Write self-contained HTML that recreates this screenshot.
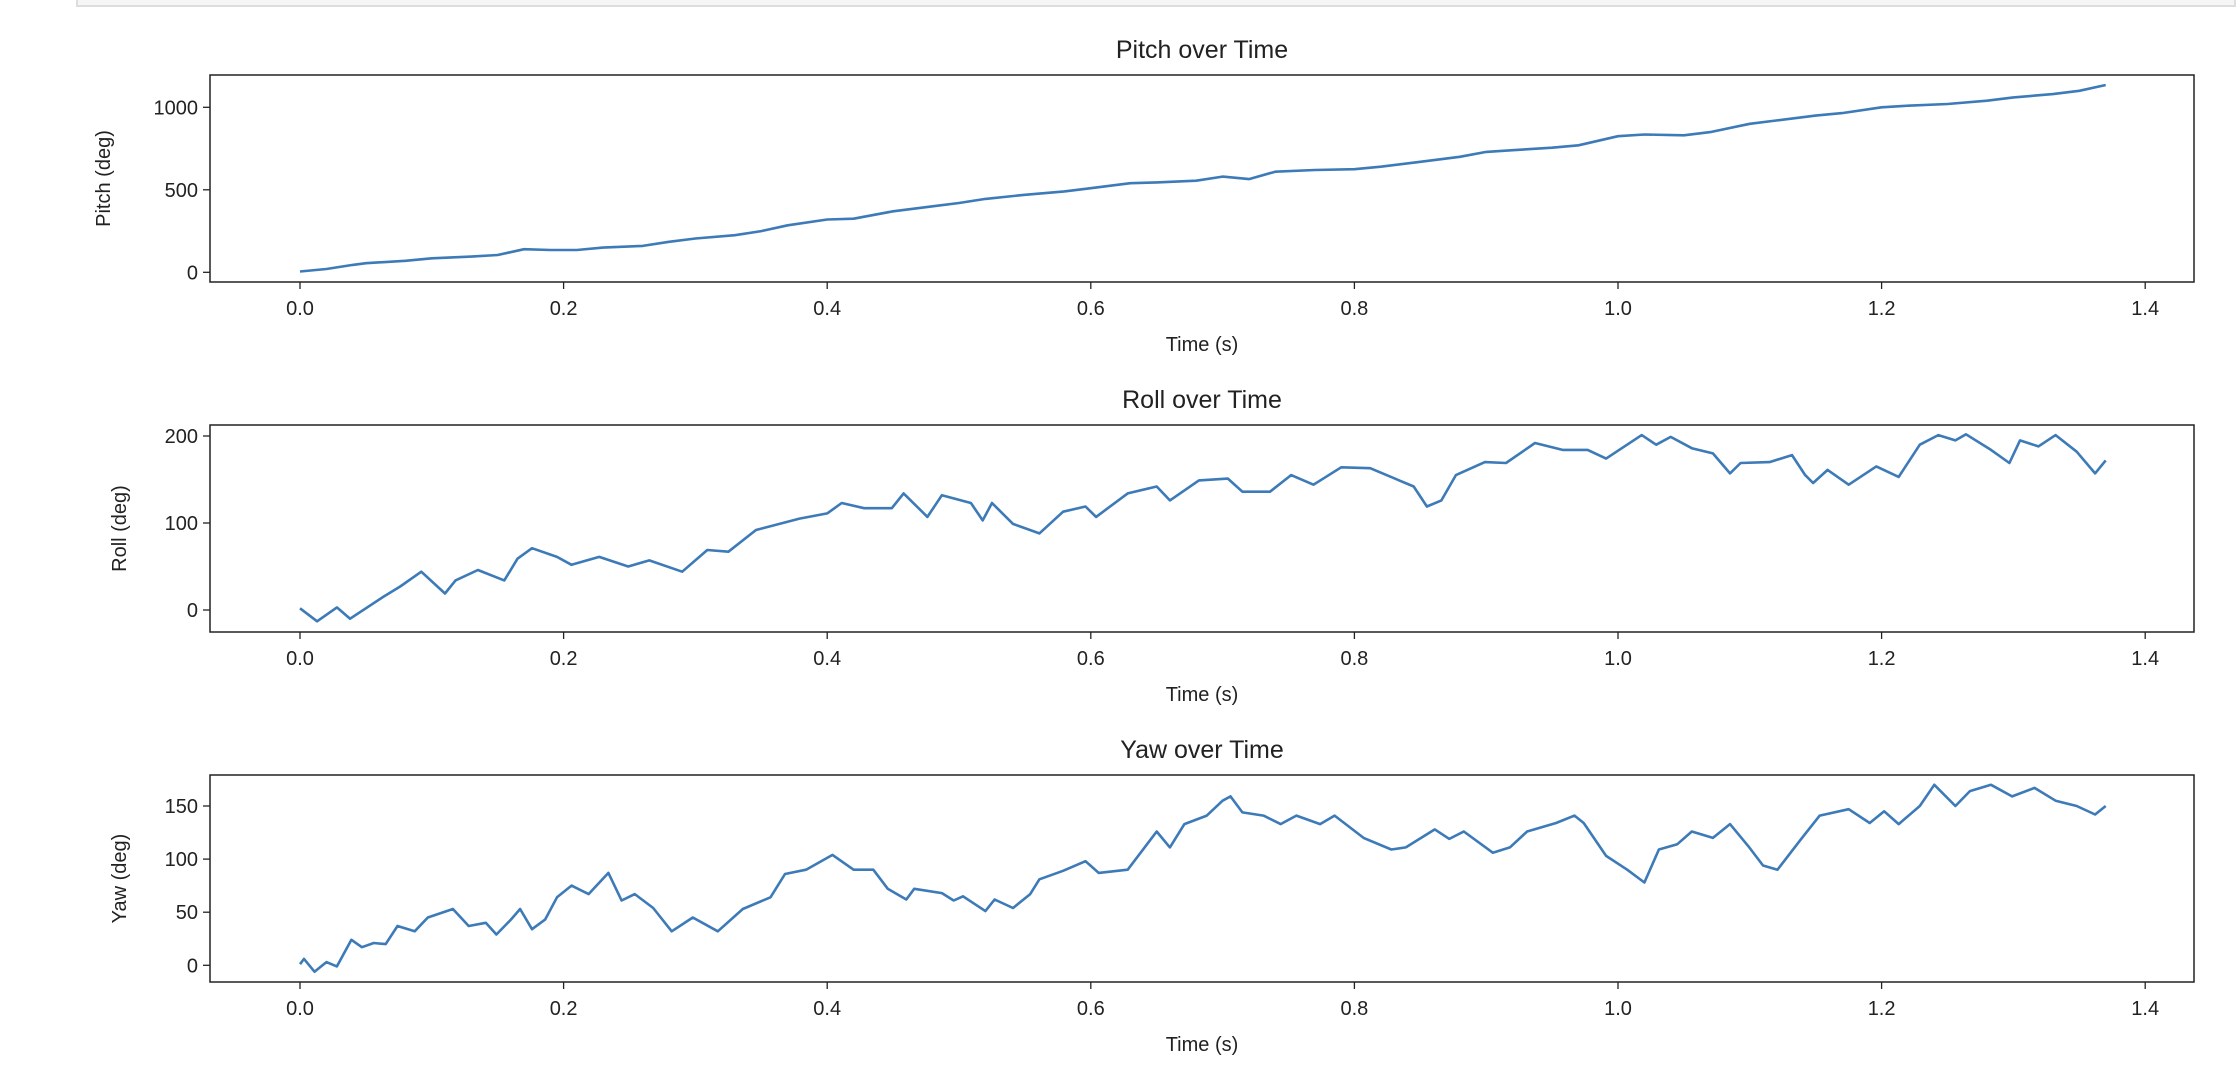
<!DOCTYPE html>
<html><head><meta charset="utf-8"><style>
body{margin:0;background:#fff;}
svg text{font-family:"Liberation Sans",sans-serif;fill:#222;}
</style></head><body>
<svg id="chart" width="2238" height="1076" xmlns="http://www.w3.org/2000/svg">
<rect x="77" y="-2" width="2158" height="8" fill="#f5f5f5" stroke="#ddd" stroke-width="2"/>
</svg>
<script>
const pitchT=[0,0.02,0.04,0.05,0.08,0.1,0.13,0.15,0.17,0.19,0.21,0.23,0.26,0.28,0.3,0.33,0.35,0.37,0.4,0.42,0.45,0.48,0.5,0.52,0.55,0.58,0.6,0.63,0.65,0.68,0.7,0.72,0.74,0.77,0.8,0.82,0.85,0.88,0.9,0.92,0.95,0.97,1.0,1.02,1.05,1.07,1.1,1.12,1.15,1.17,1.2,1.22,1.25,1.28,1.3,1.33,1.35,1.37];
const pitchV=[5,20,45,55,70,85,95,105,140,135,135,150,160,185,205,225,250,285,320,325,370,400,420,445,470,490,510,540,545,555,580,565,610,620,625,640,670,700,730,740,755,770,825,835,830,850,900,920,950,965,1000,1010,1020,1040,1060,1080,1100,1135];
const rollT=[0,0.013,0.028,0.038,0.063,0.076,0.092,0.11,0.118,0.135,0.155,0.165,0.176,0.195,0.206,0.227,0.249,0.265,0.29,0.309,0.325,0.346,0.379,0.4,0.411,0.428,0.449,0.458,0.476,0.487,0.509,0.518,0.525,0.541,0.561,0.579,0.596,0.604,0.628,0.65,0.66,0.682,0.704,0.715,0.736,0.752,0.769,0.79,0.812,0.834,0.845,0.855,0.866,0.877,0.899,0.915,0.937,0.958,0.977,0.991,1.018,1.029,1.04,1.056,1.072,1.085,1.093,1.115,1.132,1.142,1.148,1.159,1.175,1.196,1.213,1.229,1.243,1.256,1.264,1.283,1.297,1.305,1.319,1.332,1.348,1.362,1.37];
const rollV=[2,-13,3,-10,15,27,44,19,34,46,34,59,71,61,52,61,50,57,44,69,67,92,105,111,123,117,117,134,107,132,123,103,123,99,88,113,119,107,134,142,126,149,151,136,136,155,144,164,163,149,142,119,126,155,170,169,192,184,184,174,201,190,199,186,180,157,169,170,178,155,146,161,144,165,153,190,201,195,202,184,169,195,188,201,182,157,172];
const yawT=[0,0.003,0.011,0.02,0.028,0.039,0.047,0.056,0.065,0.074,0.087,0.097,0.116,0.128,0.141,0.149,0.16,0.167,0.176,0.186,0.195,0.206,0.219,0.234,0.244,0.254,0.268,0.282,0.298,0.317,0.336,0.357,0.368,0.384,0.404,0.42,0.435,0.446,0.46,0.466,0.487,0.496,0.503,0.52,0.527,0.541,0.554,0.561,0.579,0.596,0.606,0.628,0.65,0.66,0.671,0.688,0.7,0.706,0.715,0.731,0.744,0.756,0.774,0.785,0.807,0.828,0.839,0.861,0.872,0.883,0.905,0.918,0.931,0.953,0.967,0.974,0.991,1.007,1.02,1.031,1.045,1.056,1.072,1.085,1.099,1.11,1.121,1.139,1.153,1.175,1.191,1.202,1.213,1.229,1.24,1.256,1.267,1.283,1.299,1.316,1.332,1.348,1.362,1.37];
const yawV=[1,6,-6,3,-1,24,17,21,20,37,32,45,53,37,40,29,43,53,34,43,64,75,67,87,61,67,54,32,45,32,53,64,86,90,104,90,90,72,62,72,68,61,65,51,62,54,67,81,89,98,87,90,126,111,133,141,155,159,144,141,133,141,133,141,120,109,111,128,119,126,106,111,126,134,141,134,103,90,78,109,114,126,120,133,112,94,90,119,141,147,134,145,133,150,170,150,164,170,159,167,155,150,142,150];
const xTicks=[0,0.2,0.4,0.6,0.8,1.0,1.2,1.4];
const xTickLabels=["0.0","0.2","0.4","0.6","0.8","1.0","1.2","1.4"];
const panels=[
 {name:'pitch',title:'Pitch over Time',ylabel:'Pitch (deg)',top:75,bottom:282,y0:272.3,scale:0.165,ticks:[0,500,1000],T:pitchT,V:pitchV,ylx:110},
 {name:'roll',title:'Roll over Time',ylabel:'Roll (deg)',top:425,bottom:632,y0:610,scale:0.87,ticks:[0,100,200],T:rollT,V:rollV,ylx:126},
 {name:'yaw',title:'Yaw over Time',ylabel:'Yaw (deg)',top:775,bottom:982,y0:965.3,scale:1.062,ticks:[0,50,100,150],T:yawT,V:yawV,ylx:126}
];
const L=210,R=2194;
const xs=t=>300+t*1318;
const svg=document.getElementById('chart');
const NS='http://www.w3.org/2000/svg';
function mk(tag,attrs,parent){const e=document.createElementNS(NS,tag);for(const k in attrs)e.setAttribute(k,attrs[k]);(parent||svg).appendChild(e);return e;}
panels.forEach(p=>{
 const g=mk('g',{});
 
 
 const ys=v=>p.y0-v*p.scale;
 const t=mk('text',{x:(L+R)/2,y:p.top-17,'text-anchor':'middle','font-size':25},g);t.textContent=p.title;
 
 
 xTicks.forEach((v,i)=>{
  const x=xs(v);
  const tk=mk('line',{x1:x,x2:x,y1:p.bottom,y2:p.bottom+7,stroke:'#222','stroke-width':1.3},g);
  
  
  const tl=mk('text',{x:x,y:p.bottom+33,'text-anchor':'middle','font-size':20},g);tl.textContent=xTickLabels[i];
  
  
 });
 const xl=mk('text',{x:(L+R)/2,y:p.bottom+69,'text-anchor':'middle','font-size':20},g);xl.textContent='Time (s)';
 
 
 p.ticks.forEach(v=>{
  const y=ys(v);
  const tk=mk('line',{x1:L-7,x2:L,y1:y,y2:y,stroke:'#222','stroke-width':1.3},g);
  
  
  const tl=mk('text',{x:L-12,y:y+7,'text-anchor':'end','font-size':20},g);tl.textContent=String(v);
  
  
 });
 const cy=(p.top+p.bottom)/2;
 const yl=mk('text',{x:p.ylx,y:cy,'text-anchor':'middle','font-size':20,transform:`rotate(-90 ${p.ylx} ${cy})`},g);yl.textContent=p.ylabel;
 
 
 const d=p.T.map((tt,i)=>(i?'L':'M')+xs(tt).toFixed(1)+' '+ys(p.V[i]).toFixed(1)).join(' ');
 const ln=mk('path',{d:d,fill:'none',stroke:'#3d7ab8','stroke-width':2.6,'stroke-linejoin':'round'},g);
 
 
 const fr=mk('rect',{x:L,y:p.top,width:R-L,height:p.bottom-p.top,fill:'none',stroke:'#222','stroke-width':1.5},g);
 
 
});
</script>
</body></html>
